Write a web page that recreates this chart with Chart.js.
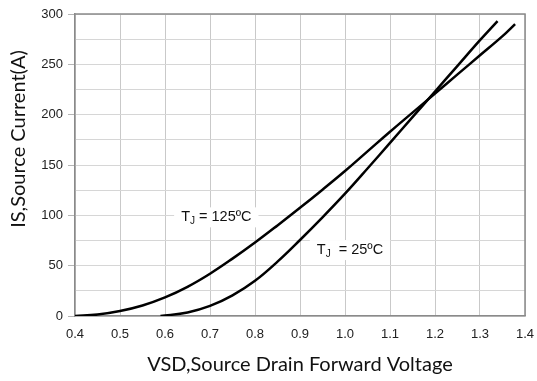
<!DOCTYPE html>
<html>
<head>
<meta charset="utf-8">
<script src="https://cdn.jsdelivr.net/npm/chart.js@4/dist/chart.umd.min.js"></script>
<style>
  body { margin: 0; background: #fff; }
  #wrap { width: 537px; height: 381px; }
</style>
</head>
<body>
<div id="wrap"><canvas id="chart"></canvas></div>
<script>
// Forward voltage (V) vs source current (A) for two junction temperatures
const vsd125 = [0.40, 0.45, 0.50, 0.55, 0.60, 0.65, 0.70, 0.75, 0.80, 0.85, 0.90, 0.95, 1.00, 1.05, 1.10, 1.15, 1.20, 1.25, 1.30, 1.35, 1.378];
const is125  = [0, 1.5, 5, 10.5, 18.5, 29, 42, 57, 73, 90, 107.5, 125.5, 144, 163.5, 183, 202, 221, 240, 259, 278, 290];

const vsd25 = [0.59, 0.65, 0.70, 0.75, 0.80, 0.85, 0.90, 0.95, 1.00, 1.05, 1.10, 1.15, 1.20, 1.25, 1.30, 1.339];
const is25  = [0, 3.5, 10, 20.5, 35, 54, 75.5, 98, 121.5, 146.5, 172, 197.5, 223, 248.5, 274, 293];

const xTicks = [0.4, 1.4, 0.1];   // min, max, step
const yTicks = [0, 300, 25];      // min, max, step (labels every 50)

function toPoints(xs, ys) {
  return xs.map((x, i) => ({ x: x, y: ys[i] }));
}

const tickFont = { family: 'Liberation Sans', size: 13 };

// frame, titles and the temperature labels
const decorations = {
  id: 'decorations',
  beforeDatasetsDraw(chart) {
    const { ctx, chartArea: a, scales } = chart;
    ctx.save();
    ctx.strokeStyle = '#8a8a8a';
    ctx.lineWidth = 1.5;
    ctx.beginPath();
    ctx.moveTo(a.left, a.top);
    ctx.lineTo(a.right, a.top);
    ctx.lineTo(a.right, a.bottom);
    ctx.stroke();

    const labels = [
      { x: 0.714, y: 98, sub: 'J', rest: ' = 125ºC' },
      { x: 1.011, y: 65.5, sub: 'J', rest: '  = 25ºC' }
    ];
    const big = '14.5px "Liberation Sans"';
    const small = '10px "Liberation Sans"';
    labels.forEach(l => {
      const px = scales.x.getPixelForValue(l.x);
      const py = scales.y.getPixelForValue(l.y);
      ctx.font = big;
      const wT = ctx.measureText('T').width;
      const wR = ctx.measureText(l.rest).width;
      ctx.font = small;
      const wJ = ctx.measureText(l.sub).width;
      const w = wT + wJ + wR;
      const x0 = px - w / 2;
      ctx.fillStyle = '#fff';
      ctx.fillRect(x0 - 7, py - 10, w + 14, 20);
      ctx.fillStyle = '#111';
      ctx.textBaseline = 'middle';
      ctx.textAlign = 'left';
      ctx.font = big;
      ctx.fillText('T', x0, py);
      ctx.font = small;
      ctx.fillText(l.sub, x0 + wT, py + 4);
      ctx.font = big;
      ctx.fillText(l.rest, x0 + wT + wJ, py);
    });
    ctx.restore();
  },
  afterDraw(chart) {
    const { ctx, chartArea: a } = chart;
    ctx.save();
    ctx.fillStyle = '#111';
    ctx.font = '20px Lato';
    ctx.textAlign = 'center';
    ctx.textBaseline = 'middle';
    ctx.fillText('VSD,Source Drain Forward Voltage', (a.left + a.right) / 2, a.bottom + 49);
    ctx.translate(19, a.top + 125);
    ctx.rotate(-Math.PI / 2);
    ctx.fillText('IS,Source Current(A)', 0, 0);
    ctx.restore();
  }
};

new Chart(document.getElementById('chart'), {
  type: 'scatter',
  data: {
    datasets: [
      { label: 'TJ = 125ºC', data: toPoints(vsd125, is125) },
      { label: 'TJ = 25ºC', data: toPoints(vsd25, is25) }
    ].map(d => Object.assign(d, {
      showLine: true,
      borderColor: '#000',
      borderWidth: 2.5,
      pointRadius: 0,
      tension: 0.4
    }))
  },
  options: {
    responsive: true,
    maintainAspectRatio: false,
    animation: false,
    layout: { padding: { top: 14, right: 12, left: 0, bottom: 0 } },
    plugins: { legend: { display: false }, tooltip: { enabled: false } },
    scales: {
      x: {
        type: 'linear',
        min: xTicks[0],
        max: xTicks[1],
        afterFit(scale) {
          scale.height = 65;
          scale.paddingLeft = 0;
          scale.paddingRight = 0;
        },
        ticks: {
          stepSize: xTicks[2],
          color: '#222',
          font: tickFont,
          padding: 11,
          maxRotation: 0,
          callback: v => v.toFixed(1)
        },
        grid: { color: '#c9c9c9', lineWidth: 1, drawTicks: false },
        border: { color: '#8a8a8a', width: 1.5 }
      },
      y: {
        min: yTicks[0],
        max: yTicks[1],
        afterFit(scale) {
          scale.width = 75;
          scale.paddingTop = 0;
          scale.paddingBottom = 0;
        },
        ticks: {
          stepSize: yTicks[2],
          color: '#222',
          font: tickFont,
          padding: 5,
          callback: v => (v % 50 === 0 ? v : '')
        },
        grid: {
          color: '#d6d6d6',
          lineWidth: 1,
          tickLength: 7,
          tickColor: c => (c.tick && c.tick.value % 50 === 0 ? '#b5b5b5' : 'rgba(0,0,0,0)')
        },
        border: { color: '#8a8a8a', width: 1.5 }
      }
    }
  },
  plugins: [decorations]
});
</script>
</body>
</html>
